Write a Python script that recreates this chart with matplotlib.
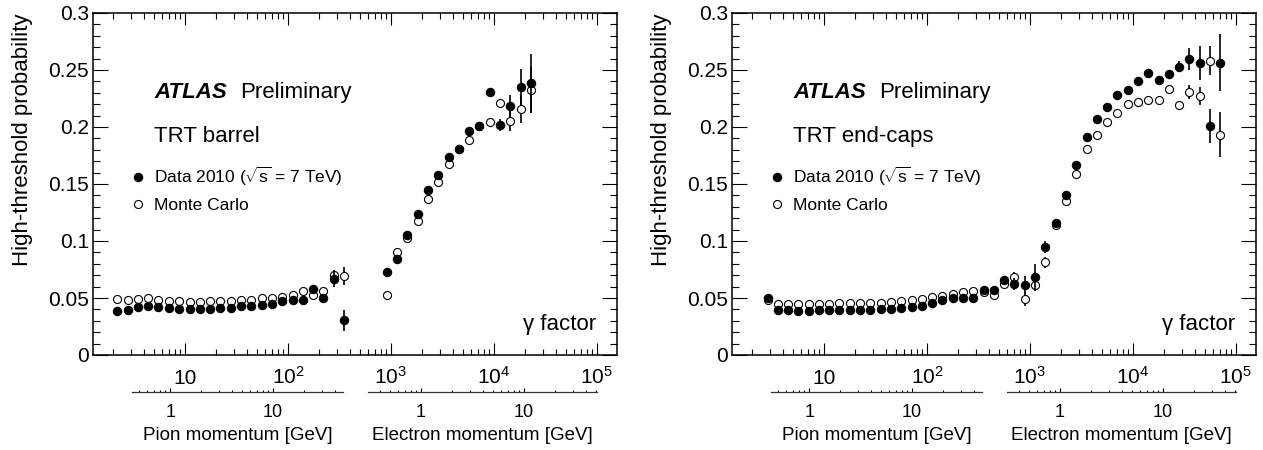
import matplotlib
matplotlib.use('Agg')
import matplotlib.pyplot as plt
import numpy as np
from matplotlib.lines import Line2D
from matplotlib.ticker import (FixedLocator, FixedFormatter, LogLocator,
                               NullFormatter, MultipleLocator, FuncFormatter)

plt.rcParams['font.family'] = ['Liberation Sans', 'DejaVu Sans']
plt.rcParams['mathtext.fontset'] = 'custom'
plt.rcParams['mathtext.rm'] = 'Liberation Sans'
plt.rcParams['mathtext.it'] = 'Liberation Sans:italic'
plt.rcParams['mathtext.bf'] = 'Liberation Sans:bold'

# ---- data (gamma factor, high-threshold probability) ----
# barrel: pions then electrons
barrel_gamma = [2.2, 2.8, 3.5, 4.4, 5.5, 7.0, 8.8, 11.1, 14.0, 17.6, 22, 28, 35, 44, 56,
                70, 88, 111, 140, 176, 221, 279, 351,
                912, 1148, 1445, 1820, 2291, 2884, 3631, 4571, 5754, 7244, 9120,
                11482, 14454, 18197, 22909]
barrel_data = [0.0384, 0.0399, 0.0419, 0.0428, 0.0419, 0.041, 0.0405, 0.0405, 0.0405,
               0.0405, 0.041, 0.041, 0.0428, 0.0434, 0.044, 0.045, 0.0477, 0.0483, 0.0483,
               0.058, 0.050, 0.067, 0.0303,
               0.0731, 0.0844, 0.1054, 0.124, 0.1447, 0.1578, 0.1735, 0.181, 0.1968,
               0.2012, 0.2303, 0.2017, 0.218, 0.235, 0.2384]
barrel_data_err = [0.001] * 21 + [0.007, 0.009] + \
                  [0.002] * 10 + [0.004, 0.005, 0.010, 0.016, 0.026]
barrel_mc = [0.0492, 0.0483, 0.0492, 0.050, 0.0486, 0.0477, 0.0472, 0.0469, 0.0469,
             0.0475, 0.0475, 0.0475, 0.048, 0.0483, 0.0498, 0.0504, 0.0512, 0.053, 0.0559,
             0.0527, 0.0559, 0.070, 0.0693,
             0.0524, 0.090, 0.1025, 0.1173, 0.1365, 0.1514, 0.1674, 0.181, 0.1886,
             0.2012, 0.204, 0.221, 0.2052, 0.2157, 0.2326]
barrel_mc_err = [0.001] * 21 + [0.005, 0.008] + \
                [0.002] * 10 + [0.003, 0.004, 0.009, 0.012, 0.020]

# end-caps
endcap_gamma = [2.82, 3.55, 4.47, 5.62, 7.08, 8.91, 11.2, 14.1, 17.8, 22.4, 28.2, 35.5,
                44.7, 56.2, 70.8, 89.1, 112, 141, 178, 224, 282, 355, 447, 562, 708, 891,
                1122, 1413, 1778, 2239, 2818, 3548, 4467, 5623, 7079, 8913, 11220, 14125,
                17783, 22387, 28184, 35481, 44668, 56234, 70795]
endcap_data = [0.050, 0.0399, 0.0396, 0.039, 0.039, 0.0396, 0.0396, 0.0399, 0.0399,
               0.0399, 0.0399, 0.0405, 0.0405, 0.041, 0.0422, 0.0434, 0.0454, 0.0483,
               0.050, 0.0498, 0.0498, 0.057, 0.057, 0.0658, 0.0623, 0.0614, 0.068,
               0.0949, 0.1162, 0.140, 0.1665, 0.191, 0.207, 0.2175, 0.2285, 0.2326,
               0.2405, 0.2472, 0.2413, 0.2466, 0.253, 0.2597, 0.256, 0.2012, 0.2565]
endcap_data_err = [0.001] * 23 + [0.003, 0.005, 0.008, 0.012, 0.005] + \
                  [0.002] * 12 + [0.005, 0.010, 0.015, 0.015, 0.025]
endcap_mc = [0.0486, 0.0445, 0.0445, 0.0445, 0.0448, 0.0448, 0.0448, 0.0454, 0.0454,
             0.0454, 0.0454, 0.046, 0.0466, 0.0475, 0.0483, 0.0492, 0.0507, 0.0521,
             0.0536, 0.055, 0.0565, 0.055, 0.0527, 0.062, 0.068, 0.0492, 0.0617,
             0.0812, 0.1144, 0.1348, 0.1584, 0.181, 0.1933, 0.204, 0.2122, 0.2204,
             0.2218, 0.2236, 0.2239, 0.2332, 0.2192, 0.2306, 0.2274, 0.2582, 0.1933]
endcap_mc_err = [0.001] * 23 + [0.003, 0.005, 0.006, 0.005, 0.005] + \
                [0.002] * 12 + [0.004, 0.006, 0.008, 0.013, 0.020]

x_ticks = [10, 1e2, 1e3, 1e4, 1e5]
x_ticklabels = ['10', r'$\mathregular{10^{2}}$', r'$\mathregular{10^{3}}$',
                r'$\mathregular{10^{4}}$', r'$\mathregular{10^{5}}$']
M_PION = 0.13957
M_ELEC = 0.000511

W, H = 1263, 450
fig = plt.figure(figsize=(W / 100, H / 100), dpi=100)


def momentum_axis(ax, g_lo, g_hi, mass, label):
    x0 = ax.transData.transform((g_lo, 0))[0]
    x1 = ax.transData.transform((g_hi, 0))[0]
    mx = fig.add_axes([x0 / W, 1 - 391.7 / H, (x1 - x0) / W, 0.0001])
    mx.patch.set_visible(False)
    for s in ['top', 'left', 'right']:
        mx.spines[s].set_visible(False)
    mx.spines['bottom'].set_linewidth(0.9)
    mx.spines['bottom'].set_color('#333333')
    mx.set_yticks([])
    mx.set_xscale('log')
    mx.set_xlim(g_lo * mass, g_hi * mass)
    mx.xaxis.set_major_locator(FixedLocator([1, 10]))
    mx.xaxis.set_major_formatter(FixedFormatter(['1', '10']))
    mx.xaxis.set_minor_locator(LogLocator(base=10, subs=np.arange(2, 10)))
    mx.xaxis.set_minor_formatter(NullFormatter())
    mx.tick_params(axis='x', which='major', direction='in', length=3.0, width=0.8,
                   labelsize=13, pad=18.4)
    mx.tick_params(axis='x', which='minor', direction='in', length=1.8, width=0.8)
    for lbl in mx.get_xticklabels():
        lbl.set_verticalalignment('baseline')
    fig.text((x0 + x1) / 2 / W, 1 - 440 / H, label, ha='center', va='baseline',
             fontsize=13.5)


def draw_panel(left_px, gamma, data, data_err, mc, mc_err, region):
    ax = fig.add_axes([left_px / W, 1 - 355 / H, 523.7 / W, 342 / H])
    ax.set_xscale('log')
    ax.set_xlim(1.274, 1.563e5)
    ax.set_ylim(0, 0.3)

    # MC: bars first, then hollow-looking markers so bars stop at the circle
    ax.errorbar(gamma, mc, yerr=mc_err, fmt='none', ecolor='black', elinewidth=1.2,
                capsize=0, zorder=2)
    ax.plot(gamma, mc, 'o', ls='none', ms=5.8, mfc='white', mec='black', mew=0.8,
            zorder=3)
    ax.errorbar(gamma, data, yerr=data_err, fmt='o', ms=5.8, mfc='black', mec='black',
                ecolor='black', elinewidth=1.2, capsize=0, zorder=4)

    for s in ax.spines.values():
        s.set_linewidth(1.1)
    ax.xaxis.set_major_locator(FixedLocator(x_ticks))
    ax.xaxis.set_major_formatter(FixedFormatter(x_ticklabels))
    ax.xaxis.set_minor_locator(LogLocator(base=10, subs=np.arange(2, 10)))
    ax.xaxis.set_minor_formatter(NullFormatter())
    ax.yaxis.set_major_locator(MultipleLocator(0.05))
    ax.yaxis.set_minor_locator(MultipleLocator(0.01))
    ax.yaxis.set_major_formatter(FuncFormatter(lambda v, p: f'{v:g}'))
    ax.tick_params(which='both', direction='in', top=True, right=True, width=0.8)
    ax.tick_params(axis='x', which='major', length=8.5, labelsize=15, pad=20.9)
    ax.tick_params(axis='x', which='minor', length=4.0)
    ax.tick_params(axis='y', which='major', length=10.5, labelsize=15, pad=3)
    ax.tick_params(axis='y', which='minor', length=5.0)
    for lbl in ax.get_xticklabels():
        lbl.set_verticalalignment('baseline')

    ax.set_ylabel('High-threshold probability', fontsize=16, loc='top')
    ax.yaxis.set_label_coords(-0.1146, 1.0)

    ax.text(0.1165, 0.7515, 'ATLAS', transform=ax.transAxes, fontsize=16,
            fontweight='bold', fontstyle='italic', va='baseline')
    ax.text(0.2807, 0.7515, 'Preliminary', transform=ax.transAxes, fontsize=16,
            va='baseline')
    ax.text(0.1165, 0.6228, region, transform=ax.transAxes, fontsize=16,
            va='baseline')
    ax.text(0.9605, 0.073, '\u03b3 factor', transform=ax.transAxes, fontsize=16,
            ha='right', va='baseline')

    handles = [Line2D([], [], ls='none', marker='o', ms=5.8, mfc='black', mec='black'),
               Line2D([], [], ls='none', marker='o', ms=5.8, mfc='none', mec='black',
                      mew=0.8)]
    ax.legend(handles, [r'Data 2010 ($\sqrt{\mathregular{s}}$ = 7 TeV)', 'Monte Carlo'],
              loc='upper left', bbox_to_anchor=(0.070, 0.555), frameon=False,
              fontsize=12.5, handlelength=1.0, handletextpad=0.4, borderpad=0,
              borderaxespad=0, labelspacing=0.55)

    momentum_axis(ax, 3.05, 345, M_PION, 'Pion momentum [GeV]')
    momentum_axis(ax, 604, 1e5, M_ELEC, 'Electron momentum [GeV]')
    return ax


draw_panel(93, barrel_gamma, barrel_data, barrel_data_err, barrel_mc, barrel_mc_err,
           'TRT barrel')
draw_panel(732, endcap_gamma, endcap_data, endcap_data_err, endcap_mc, endcap_mc_err,
           'TRT end-caps')

fig.savefig('out.png', dpi=100)
